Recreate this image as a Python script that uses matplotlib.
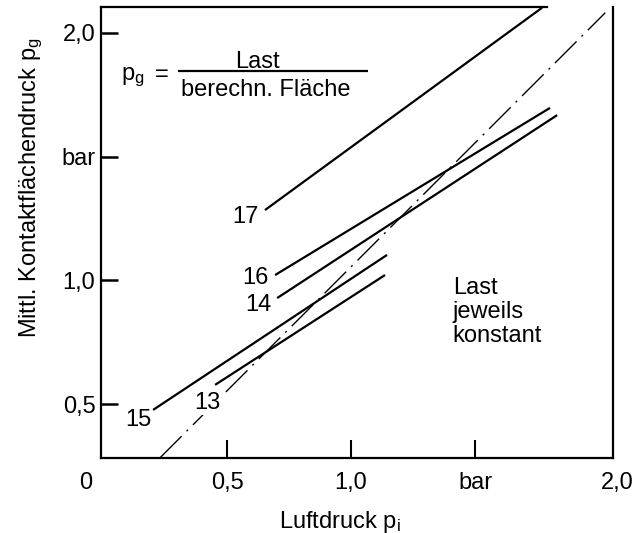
import matplotlib
matplotlib.use("Agg")
import matplotlib.pyplot as plt

plt.rcParams['font.family'] = ['Liberation Sans', 'DejaVu Sans']
plt.rcParams['mathtext.default'] = 'regular'

# Kennlinien (Luftdruck p_i in bar, Kontaktflaechendruck p_g in bar)
line17_x = [0.653, 1.77]
line17_y = [1.284, 2.10]
line16_x = [0.694, 1.802]
line16_y = [1.022, 1.696]
line14_x = [0.702, 1.831]
line14_y = [0.929, 1.667]
line15_x = [0.202, 1.145]
line15_y = [0.478, 1.103]
line13_x = [0.452, 1.137]
line13_y = [0.579, 1.022]
# strichpunktierte Linie (p_g ~ p_i)
ref_x = [0.23, 2.025]
ref_y = [0.285, 2.08]

xticks = [0.5, 1.0, 1.5]
xticklabels = ['0,5', '1,0', 'bar']
yticks = [0.5, 1.0, 1.5, 2.0]
yticklabels = ['0,5', '1,0', 'bar', '2,0']

FS = 17

fig = plt.figure(figsize=(6.43, 5.33), dpi=100)
ax = fig.add_axes([101/643, 1 - 458/533, 512/643, 451/533])

for xs, ys in [(line17_x, line17_y), (line16_x, line16_y), (line14_x, line14_y),
               (line15_x, line15_y), (line13_x, line13_y)]:
    ax.plot(xs, ys, color='black', lw=1.6, solid_capstyle='butt')

ax.plot(ref_x, ref_y, color='black', lw=1.0, dashes=(22, 5, 1.5, 5))

ax.set_xlim(-0.008, 2.056)
ax.set_ylim(0.284, 2.103)

ax.set_xticks(xticks)
ax.set_xticklabels(xticklabels)
ax.set_yticks(yticks)
ax.set_yticklabels(yticklabels)
ax.tick_params(axis='x', direction='in', length=13, width=1.5, pad=10, labelsize=FS)
ax.tick_params(axis='y', direction='in', length=12, width=1.8, pad=4, labelsize=FS)

for s in ax.spines.values():
    s.set_linewidth(1.6)
ax.spines['top'].set_bounds(-0.008, 1.79)

# Achsbeschriftung an den Enden
ax.text(-0.069, -0.031, '0', transform=ax.get_xaxis_transform(),
        ha='center', va='top', fontsize=FS)
ax.text(2.073, -0.031, '2,0', transform=ax.get_xaxis_transform(),
        ha='center', va='top', fontsize=FS)

ax.set_xlabel('Luftdruck p$_{i}$', fontsize=FS)
ax.xaxis.set_label_coords(0.467, -0.112)
ax.set_ylabel('Mittl. Kontaktflächendruck p$_{g}$', fontsize=FS)
ax.yaxis.set_label_coords(-0.11, 0.60)

# Formel
ax.text(0.121, 1.821, 'p$_{g}$', ha='center', va='center', fontsize=FS)
ax.text(0.238, 1.829, '=', ha='center', va='center', fontsize=FS)
ax.text(0.621, 1.881, 'Last', ha='center', va='center', fontsize=FS)
ax.hlines(1.845, 0.302, 1.069, color='black', lw=1.6)
ax.text(0.657, 1.768, 'berechn. Fläche', ha='center', va='center', fontsize=FS)

# Kurvennummern
labels = ['17', '16', '14', '15', '13']
lab_x = [0.573, 0.613, 0.625, 0.141, 0.419]
lab_y = [1.256, 1.010, 0.901, 0.4375, 0.506]
for t, x, y in zip(labels, lab_x, lab_y):
    ax.text(x, y, t, ha='center', va='center', fontsize=FS,
            bbox=dict(facecolor='white', edgecolor='none', pad=0.5))

ax.text(1.41, 0.873, 'Last\njeweils\nkonstant', ha='left', va='center',
        fontsize=FS, linespacing=1.1)

fig.savefig('out.png', dpi=100)
